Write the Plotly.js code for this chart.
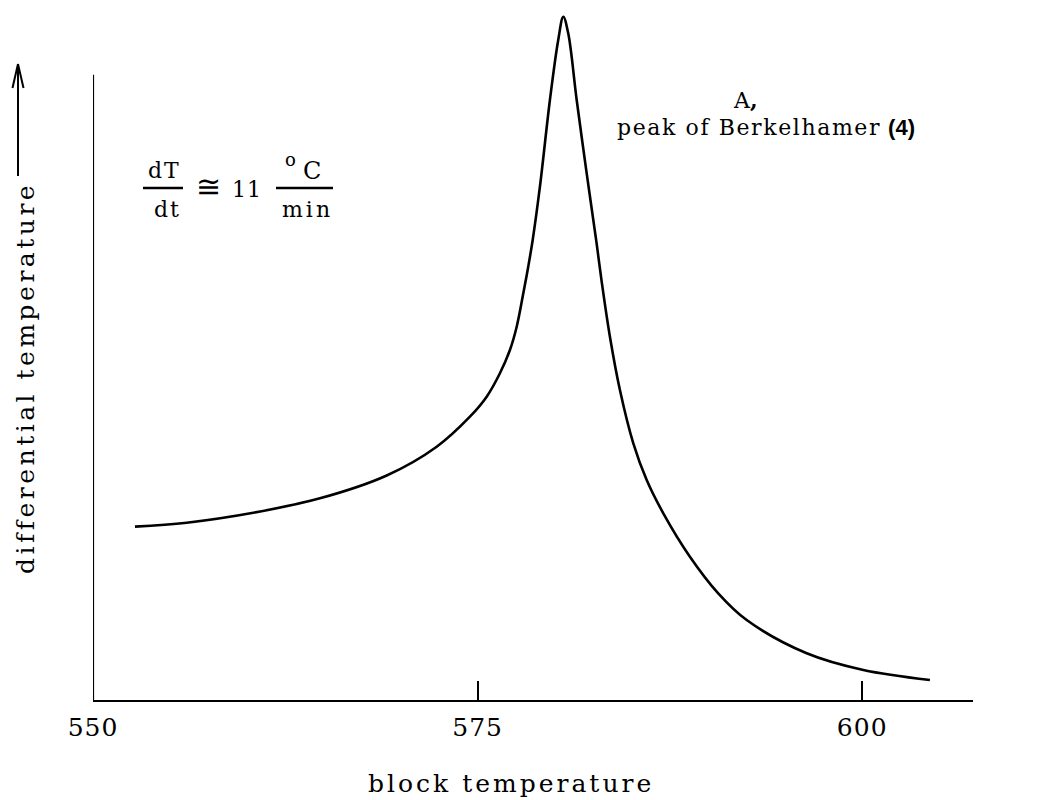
<!DOCTYPE html>
<html>
<head>
<meta charset="utf-8">
<script src="https://cdn.plot.ly/plotly-3.0.1.min.js"></script>
<style>
  html, body { margin: 0; padding: 0; background: #ffffff; }
  #chart { width: 1063px; height: 800px; }
  .xtick text { letter-spacing: 1px; }
</style>
</head>
<body>
<div id="chart"></div>
<script>
// block temperature (deg C)
const blockTemp = [552.73, 556.09, 560.42, 564.75, 569.09, 572.34, 574.50, 575.59, 576.45, 577.10,
                   577.54, 577.97, 578.29, 578.58, 579.05, 579.70, 580.24, 580.57, 580.89, 581.44,
                   582.09, 582.74, 583.06, 583.60, 584.25, 585.12, 585.99, 587.07, 588.80, 590.64,
                   592.49, 596.39, 600.07, 604.40];
// differential temperature (arbitrary units, 0 = baseline of the axis)
const diffTemp  = [25.12, 25.70, 27.14, 29.23, 32.54, 36.71, 41.06, 43.96, 47.35, 50.72,
                   54.10, 58.94, 62.80, 66.67, 74.39, 86.96, 95.65, 99.03, 96.62, 86.96,
                   76.33, 66.10, 60.70, 52.65, 44.93, 37.20, 31.88, 27.06, 20.77, 15.46,
                   11.59, 6.77, 4.35, 2.90];
const tickValues = [550, 575, 600];
const tickLabels = ["550", "575", "600"];
const yAxisTop = 90.6;

const L = 93, T = 10, W = 880, H = 690;
const fx = p => (p - L) / W;
const fy = p => (T + H - p) / H;
const SERIF = "DejaVu Serif, Liberation Serif, serif";

function ann(text, px, py, size, extra) {
  return Object.assign({
    text: text, xref: "paper", yref: "paper", x: fx(px), y: fy(py),
    xanchor: "center", yanchor: "middle", showarrow: false,
    font: { family: SERIF, size: size, color: "#000" }
  }, extra || {});
}
function sp(t, ls) { return '<span style="letter-spacing:' + ls + 'px">' + t + '</span>'; }

const trace = {
  x: blockTemp, y: diffTemp, type: "scatter", mode: "lines",
  line: { color: "#000", width: 2.6, shape: "spline", smoothing: 1 },
  hoverinfo: "skip", showlegend: false
};

const shapes = [
  // vertical axis line
  { type: "line", xref: "x", yref: "y", x0: 550, x1: 550, y0: 0, y1: yAxisTop,
    line: { color: "#000", width: 2.2 } },
  // arrow beside the y label
  { type: "line", xref: "paper", yref: "paper", x0: fx(18), x1: fx(18), y0: fy(176), y1: fy(64),
    line: { color: "#000", width: 2 } },
  { type: "line", xref: "paper", yref: "paper", x0: fx(12.5), x1: fx(18), y0: fy(88), y1: fy(64),
    line: { color: "#000", width: 2 } },
  { type: "line", xref: "paper", yref: "paper", x0: fx(23.5), x1: fx(18), y0: fy(88), y1: fy(64),
    line: { color: "#000", width: 2 } },
  // fraction bars
  { type: "line", xref: "paper", yref: "paper", x0: fx(143), x1: fx(183), y0: fy(188), y1: fy(188),
    line: { color: "#000", width: 2.5 } },
  { type: "line", xref: "paper", yref: "paper", x0: fx(276), x1: fx(333), y0: fy(188), y1: fy(188),
    line: { color: "#000", width: 2.5 } }
];

const annotations = [
  ann(sp("block temperature", 3), 511, 783, 25),
  ann(sp("differential temperature", 3.5), 25, 378, 25, { textangle: -90 }),
  ann(sp("dT", 2), 164, 171, 22),
  ann(sp("dt", 2), 167, 209, 22),
  ann("≅", 208, 186, 30),
  ann(sp("11", 1), 247, 189, 22),
  ann("o", 290, 159, 18),
  ann("C", 312, 171, 24),
  ann(sp("min", 3), 307, 209, 22),
  ann("A<b>,</b>", 745, 100, 22),
  ann(sp("peak of Berkelhamer", 1.6) + " <b><span style=\"font-family:'Liberation Sans', Arial, sans-serif\">(4)</span></b>", 766, 127, 22)
];

const layout = {
  width: 1063, height: 800,
  margin: { l: L, r: 1063 - L - W, t: T, b: 800 - T - H, pad: 0 },
  paper_bgcolor: "#fff", plot_bgcolor: "#fff",
  showlegend: false,
  xaxis: {
    range: [550, 607.2], showgrid: false, zeroline: false,
    showline: true, linecolor: "#000", linewidth: 2.2,
    tickmode: "array", tickvals: tickValues, ticktext: tickLabels,
    ticks: "inside", ticklen: 19, tickwidth: 2, tickcolor: "#000",
    ticklabelstandoff: 4,
    tickfont: { family: SERIF, size: 25, color: "#000" }
  },
  yaxis: {
    range: [0, 100], visible: false, showgrid: false, zeroline: false
  },
  shapes: shapes,
  annotations: annotations
};

Plotly.newPlot("chart", [trace], layout, { displayModeBar: false, staticPlot: true });
</script>
</body>
</html>
